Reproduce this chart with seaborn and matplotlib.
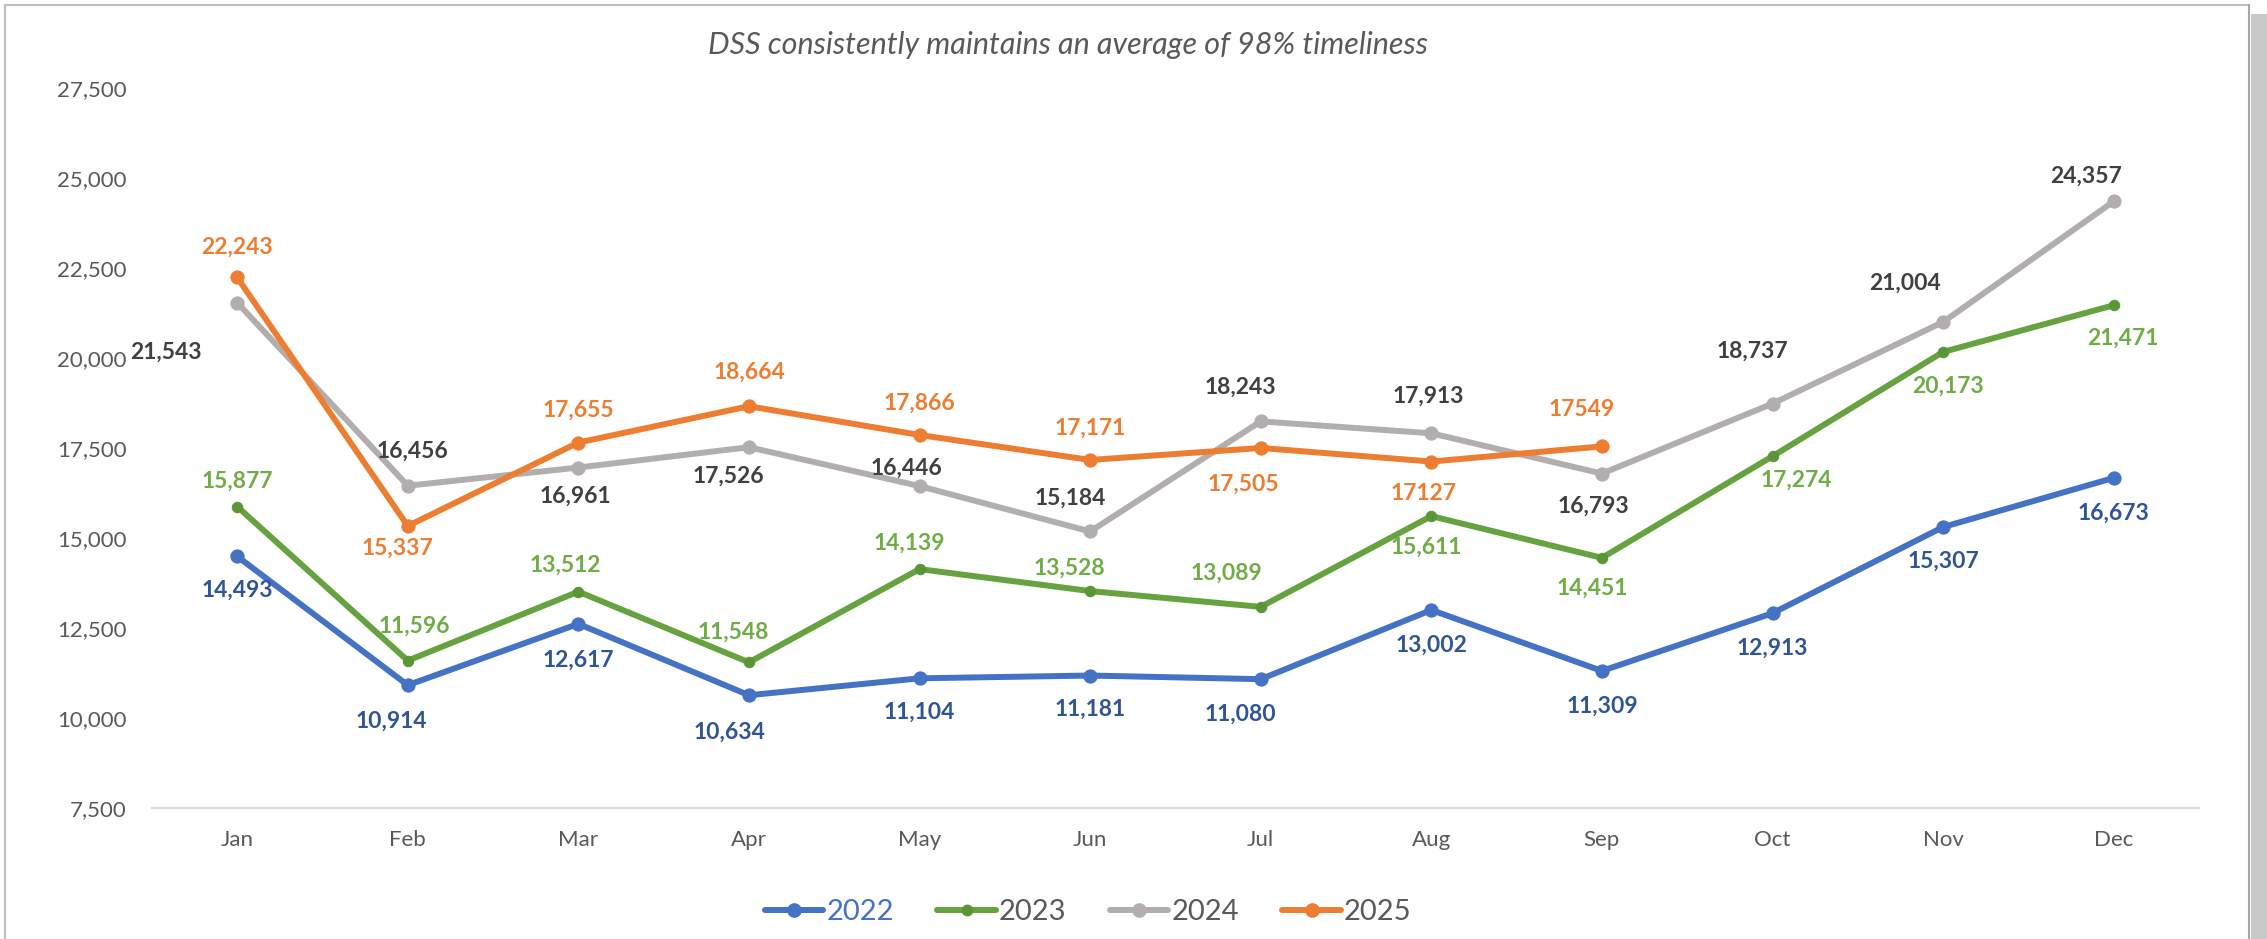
import matplotlib
matplotlib.use('Agg')
import matplotlib.pyplot as plt
import seaborn as sns
import pandas as pd
from matplotlib.lines import Line2D
from matplotlib.patches import Rectangle

# %% data
months = ['Jan', 'Feb', 'Mar', 'Apr', 'May', 'Jun', 'Jul', 'Aug', 'Sep', 'Oct', 'Nov', 'Dec']
vals_2022 = [14493, 10914, 12617, 10634, 11104, 11181, 11080, 13002, 11309, 12913, 15307, 16673]
vals_2023 = [15877, 11596, 13512, 11548, 14139, 13528, 13089, 15611, 14451, 17274, 20173, 21471]
vals_2024 = [21543, 16456, 16961, 17526, 16446, 15184, 18243, 17913, 16793, 18737, 21004, 24357]
vals_2025 = [22243, 15337, 17655, 18664, 17866, 17171, 17505, 17127, 17549]
# two of the 2025 labels have no thousands separator in the original
labels_2025 = ['22,243', '15,337', '17,655', '18,664', '17,866', '17,171', '17,505', '17127', '17549']
years = ['2022', '2023', '2024', '2025']
y_ticks = [7500, 10000, 12500, 15000, 17500, 20000, 22500, 25000, 27500]
title = 'DSS consistently maintains an average of 98% timeliness'

# %% styling
line_col = {'2022': '#4472C4', '2023': '#66A23F', '2024': '#B2AEAE', '2025': '#ED7D31'}
mark_col = {'2022': '#4472C4', '2023': '#5B9636', '2024': '#B2AEAE', '2025': '#ED7D31'}
lab_col = {'2022': '#2F5597', '2023': '#70AD47', '2024': '#404040', '2025': '#ED7D31'}
mk_size = {'2022': 9.5, '2023': 7.5, '2024': 9.5, '2025': 9.5}
# label offsets in pixels (dx right, dy down) relative to the point
offs = {
    '2022': [(0, 34), (-16, 36), (0, 36), (-19, 37), (0, 34), (0, 34), (-20, 35), (0, 35), (0, 35), (0, 35), (0, 34), (0, 35)],
    '2023': [(0, -25), (7, -34), (-13, -26), (-16, -30), (-10, -26), (-21, -23), (-34, -34), (-5, 31), (-10, 30), (24, 24), (5, 34), (9, 33)],
    '2024': [(-71, 50), (5, -35), (-3, 29), (-21, 29), (-13, -18), (-20, -33), (-20, -34), (-3, -37), (-8, 33), (-20, -52), (-38, -39), (-28, -25)],
    '2025': [(0, -30), (-10, 22), (0, -32), (0, -34), (0, -32), (0, -32), (-17, 36), (-8, 32), (-20, -37)],
}

sns.set_style('white')
plt.rcParams['font.family'] = ['Lato', 'DejaVu Sans']

series = {'2022': vals_2022, '2023': vals_2023, '2024': vals_2024, '2025': vals_2025}
rows = []
for yr in years:
    for m, v in zip(months, series[yr]):
        rows.append({'Year': yr, 'Month': m, 'Count': v})
df = pd.DataFrame(rows)

fig = plt.figure(figsize=(22.67, 9.39), dpi=100)
ax = fig.add_axes([0.067, 0.1395, 0.903, 0.7665])

for yr in years:
    d = df[df['Year'] == yr]
    sns.lineplot(data=d, x='Month', y='Count', ax=ax, color=line_col[yr], linewidth=4.3,
                 marker='o', markersize=mk_size[yr], markerfacecolor=mark_col[yr],
                 markeredgecolor=mark_col[yr], sort=False, legend=False)
    texts = labels_2025 if yr == '2025' else [f'{v:,}' for v in series[yr]]
    for i, (v, t) in enumerate(zip(series[yr], texts)):
        dx, dy = offs[yr][i]
        ax.annotate(t, (months[i], v), xytext=(dx, -dy), textcoords='offset pixels',
                    ha='center', va='center', fontsize=16.5, fontweight='bold', color=lab_col[yr])

ax.set_xlim(-0.5, 11.5)
ax.set_ylim(7500, 27500)
ax.set_yticks(y_ticks)
ax.set_yticklabels([f'{t:,}' for t in y_ticks])
ax.set_xlabel('')
ax.set_ylabel('')
ax.tick_params(axis='both', length=0, labelsize=16, labelcolor='#595959')
ax.tick_params(axis='y', pad=18)
ax.tick_params(axis='x', pad=16)
for s in ['top', 'right', 'left']:
    ax.spines[s].set_visible(False)
ax.spines['bottom'].set_color('#D9D9D9')
ax.spines['bottom'].set_linewidth(1.6)
ax.grid(False)

fig.text(0.471, 0.952, title, ha='center', va='center', fontsize=22, style='italic', color='#595959')

# legend
handles = [Line2D([0], [0], color=line_col[yr], lw=4.3, marker='o', markersize=mk_size[yr],
                  markerfacecolor=mark_col[yr], markeredgecolor=mark_col[yr]) for yr in years]
leg = fig.legend(handles, years, loc='center', bbox_to_anchor=(0.48, 0.029), ncol=4, frameon=False,
                 fontsize=21, handlelength=2.0, handletextpad=0.1, columnspacing=1.5)
for t, yr in zip(leg.get_texts(), years):
    t.set_color('#4472C4' if yr == '2022' else '#595959')

# chart frame and shadow
fig.add_artist(Line2D([0.0022, 0.0022], [0, 0.9947], color='#BFBFBF', lw=1.5, transform=fig.transFigure))
fig.add_artist(Line2D([0.0022, 0.9921], [0.9947, 0.9947], color='#BFBFBF', lw=1.5, transform=fig.transFigure))
fig.add_artist(Line2D([0.9921, 0.9921], [0, 0.9947], color='#A6A6A6', lw=1.5, transform=fig.transFigure))
fig.add_artist(Rectangle((0.9930, 0), 0.007, 0.985, color='#C9C9C9', transform=fig.transFigure, lw=0))

plt.savefig('out.png', dpi=100)
